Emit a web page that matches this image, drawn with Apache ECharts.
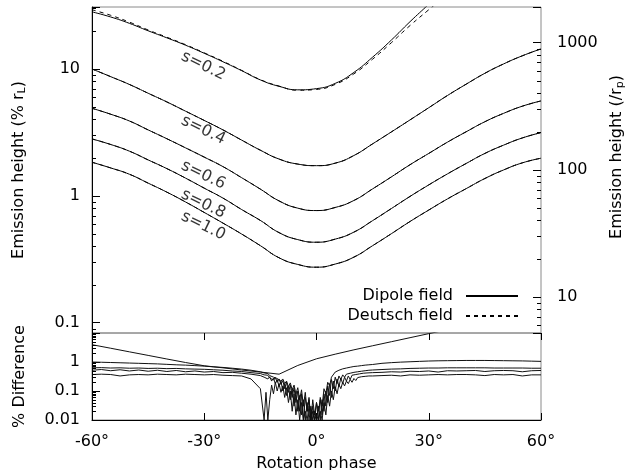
<!DOCTYPE html>
<html>
<head>
<meta charset="UTF-8">
<title>Emission height</title>
<script src="https://cdn.jsdelivr.net/npm/echarts@6/dist/echarts.min.js"></script>
<style>
  html, body { margin: 0; padding: 0; background: #fff; }
</style>
</head>
<body>
<div id="chart" style="width:627px;height:470px;"></div>
<script type="text/javascript">
// rotation phase (deg) for the emission height curves
var phase = [-60, -55, -50, -45, -40, -35, -30, -25, -20, -15, -10, -5, 0, 5, 10, 15, 20, 25, 30, 35, 40, 45, 50, 55, 60];

// emission height in % of r_L, dipole field
var dipole02 = [28.2, 25.7, 22.9, 20.0, 17.6, 15.4, 13.3, 11.4, 9.7, 8.2, 7.3, 6.85, 7.0, 7.7, 9.4, 12.4, 16.9, 23.6, 32.4, 44.7];
var dipole04 = [10.0, 8.7, 7.55, 6.44, 5.5, 4.65, 3.93, 3.31, 2.75, 2.29, 1.95, 1.78, 1.73, 1.81, 2.08, 2.57, 3.19, 3.97, 4.95, 6.18, 7.59, 9.25, 10.96, 12.7, 14.4];
var dipole06 = [4.9, 4.4, 3.89, 3.31, 2.82, 2.39, 2.02, 1.70, 1.39, 1.13, 0.912, 0.80, 0.766, 0.81, 0.92, 1.135, 1.41, 1.76, 2.16, 2.65, 3.20, 3.84, 4.47, 5.09, 5.6];
var dipole08 = [2.81, 2.54, 2.25, 1.92, 1.64, 1.38, 1.15, 0.96, 0.78, 0.64, 0.513, 0.452, 0.431, 0.456, 0.518, 0.638, 0.794, 0.99, 1.22, 1.49, 1.80, 2.16, 2.51, 2.86, 3.15];
var dipole10 = [1.84, 1.66, 1.48, 1.26, 1.07, 0.895, 0.74, 0.61, 0.50, 0.405, 0.325, 0.288, 0.274, 0.29, 0.329, 0.405, 0.503, 0.628, 0.773, 0.946, 1.14, 1.37, 1.60, 1.82, 1.98];

// Deutsch field (only s=0.2 visibly differs)
var deutsch02 = [29.3, 26.5, 23.4, 20.3, 17.8, 15.55, 13.4, 11.5, 9.75, 8.24, 7.33, 6.8, 6.9, 7.56, 9.16, 11.95, 16.1, 22.0, 29.3, 38.9];
var deutsch04 = [10.0, 8.7, 7.55, 6.44, 5.5, 4.65, 3.93, 3.31, 2.75, 2.29, 1.95, 1.78, 1.73, 1.81, 2.08, 2.57, 3.19, 3.97, 4.95, 6.18, 7.59, 9.25, 10.96, 12.7, 14.4];
var deutsch06 = [4.9, 4.4, 3.89, 3.31, 2.82, 2.39, 2.02, 1.70, 1.39, 1.13, 0.912, 0.80, 0.766, 0.81, 0.92, 1.135, 1.41, 1.76, 2.16, 2.65, 3.20, 3.84, 4.47, 5.09, 5.6];
var deutsch08 = [2.81, 2.54, 2.25, 1.92, 1.64, 1.38, 1.15, 0.96, 0.78, 0.64, 0.513, 0.452, 0.431, 0.456, 0.518, 0.638, 0.794, 0.99, 1.22, 1.49, 1.80, 2.16, 2.51, 2.86, 3.15];
var deutsch10 = [1.84, 1.66, 1.48, 1.26, 1.07, 0.895, 0.74, 0.61, 0.50, 0.405, 0.325, 0.288, 0.274, 0.29, 0.329, 0.405, 0.503, 0.628, 0.773, 0.946, 1.14, 1.37, 1.60, 1.82, 1.98];

// curve labels: text, phase, height of label centre
var labelNames = ['s=0.2', 's=0.4', 's=0.6', 's=0.8', 's=1.0'];
var labelPhase = [-30.25, -30.25, -30.25, -30.25, -30.25];
var labelHeight = [10.6, 3.30, 1.46, 0.863, 0.58];

// % difference panel
var diff02 = [3.95, 2.98, 2.24, 1.69, 1.27, 0.96, 0.74, 0.63, 0.53, 0.45, 0.38, 0.76, 1.29, 1.86, 2.63, 3.63, 5.0, 6.9, 9.5, 13];

var diffPhase = [-60, -57.5, -55, -52.5, -50, -47.5, -45, -42.5, -40, -37.5, -35, -32.5, -30, -27.5, -25, -22.5, -20, -17.5, -15,
  -14, -13.5, -13, -12.5, -12, -11.5, -11, -10.5, -10, -9.5, -9, -8.5, -8, -7.5, -7, -6.5, -6, -5.5, -5,
  -4.5, -4, -3.5, -3, -2.5, -2, -1.5, -1, -0.5, 0, 0.5, 1, 1.5, 2, 2.5, 3, 3.5, 4, 4.5, 5,
  5.5, 6, 6.5, 7, 7.5, 8, 8.5, 9, 9.5, 10, 10.5, 11, 11.5, 12, 12.5, 13, 13.5, 14,
  15, 17.5, 20, 22.5, 25, 27.5, 30, 32.5, 35, 37.5, 40, 42.5, 45, 47.5, 50, 52.5, 55, 57.5, 60];

var diff04 = [1.00, 0.98, 0.96, 0.94, 0.92, 0.9, 0.88, 0.86, 0.83, 0.8, 0.78, 0.75, 0.72, 0.68, 0.65, 0.61, 0.57, 0.52, 0.46,
  0.42, 0.38, 0.40, 0.34, 0.36, 0.30, 0.33, 0.27, 0.30, 0.22, 0.26, 0.18, 0.22, 0.14, 0.19, 0.11, 0.16, 0.08, 0.13,
  0.05, 0.11, 0.03, 0.09, 0.02, 0.06, 0.01, 0.05, 0.015, 0.04, 0.01, 0.06, 0.03, 0.12, 0.08, 0.2, 0.15, 0.3, 0.35, 0.45,
  0.48, 0.52, 0.55, 0.58, 0.6, 0.62, 0.64, 0.66, 0.68, 0.7, 0.71, 0.72, 0.74, 0.75, 0.77, 0.78, 0.79, 0.8,
  0.82, 0.9, 0.95, 0.99, 1.02, 1.05, 1.08, 1.1, 1.11, 1.12, 1.13, 1.13, 1.13, 1.12, 1.11, 1.1, 1.09, 1.07, 1.05];
var diff06 = [0.63, 0.64, 0.62, 0.63, 0.61, 0.62, 0.6, 0.61, 0.59, 0.6, 0.58, 0.57, 0.56, 0.54, 0.52, 0.49, 0.47, 0.43, 0.4,
  0.36, 0.31, 0.35, 0.28, 0.32, 0.24, 0.29, 0.2, 0.26, 0.17, 0.23, 0.12, 0.2, 0.09, 0.16, 0.06, 0.13, 0.04, 0.1,
  0.02, 0.08, 0.01, 0.06, 0.02, 0.05, 0.01, 0.03, 0.01, 0.04, 0.02, 0.05, 0.015, 0.08, 0.03, 0.15, 0.07, 0.25, 0.12, 0.3,
  0.18, 0.33, 0.25, 0.36, 0.3, 0.38, 0.34, 0.41, 0.38, 0.44, 0.42, 0.46, 0.45, 0.48, 0.47, 0.5, 0.5, 0.52,
  0.53, 0.55, 0.57, 0.58, 0.6, 0.61, 0.62, 0.62, 0.63, 0.63, 0.63, 0.63, 0.63, 0.62, 0.62, 0.62, 0.62, 0.61, 0.61];
var diff08 = [0.52, 0.55, 0.5, 0.54, 0.49, 0.53, 0.48, 0.52, 0.47, 0.51, 0.46, 0.49, 0.45, 0.47, 0.43, 0.44, 0.41, 0.38, 0.34,
  0.3, 0.34, 0.26, 0.31, 0.22, 0.28, 0.18, 0.25, 0.14, 0.22, 0.1, 0.18, 0.07, 0.15, 0.05, 0.12, 0.03, 0.09, 0.02,
  0.07, 0.015, 0.05, 0.01, 0.04, 0.01, 0.03, 0.01, 0.02, 0.01, 0.03, 0.01, 0.05, 0.02, 0.1, 0.04, 0.18, 0.06, 0.22, 0.1,
  0.26, 0.14, 0.28, 0.18, 0.3, 0.22, 0.33, 0.25, 0.35, 0.3, 0.37, 0.33, 0.39, 0.36, 0.41, 0.39, 0.42, 0.41,
  0.43, 0.44, 0.46, 0.45, 0.48, 0.47, 0.49, 0.45, 0.5, 0.49, 0.5, 0.51, 0.47, 0.5, 0.51, 0.5, 0.46, 0.5, 0.51];
var diff10 = [0.37, 0.38, 0.37, 0.33, 0.36, 0.37, 0.36, 0.38, 0.37, 0.36, 0.38, 0.37, 0.36, 0.37, 0.35, 0.34, 0.33, 0.26, 0.12,
  0.01, 0.09, 0.01, 0.05, 0.16, 0.08, 0.2, 0.1, 0.18, 0.09, 0.15, 0.06, 0.13, 0.04, 0.1, 0.02, 0.08, 0.015, 0.05,
  0.01, 0.04, 0.01, 0.02, 0.01, 0.03, 0.01, 0.02, 0.01, 0.015, 0.01, 0.02, 0.01, 0.04, 0.015, 0.07, 0.03, 0.1, 0.05, 0.14,
  0.08, 0.17, 0.12, 0.2, 0.15, 0.22, 0.18, 0.25, 0.2, 0.27, 0.23, 0.29, 0.26, 0.31, 0.28, 0.32, 0.3, 0.33,
  0.33, 0.34, 0.35, 0.33, 0.36, 0.35, 0.36, 0.37, 0.36, 0.37, 0.37, 0.36, 0.34, 0.37, 0.36, 0.37, 0.33, 0.36, 0.36];

// minor tick values of the log axes
var minorLeft = [0.09, 0.2, 0.3, 0.4, 0.5, 0.6, 0.7, 0.8, 0.9, 2, 3, 4, 5, 6, 7, 8, 9, 20, 30];
var minorRight = [6, 7, 8, 9, 20, 30, 40, 50, 60, 70, 80, 90, 200, 300, 400, 500, 600, 700, 800, 900];
var minorDiff = [0.02, 0.03, 0.04, 0.05, 0.06, 0.07, 0.08, 0.09, 0.2, 0.3, 0.4, 0.5, 0.6, 0.7, 0.8, 0.9, 2, 3, 4, 5, 6, 7, 8, 9];

var FONT = 'DejaVu Sans';

function zip(xs, ys) {
  return ys.map(function (y, i) { return [xs[i], y]; });
}

// only label the decades
function decadeLabel(v) {
  var l = Math.log10(v);
  if (Math.abs(l - Math.round(l)) > 1e-6) return '';
  return String(+Math.pow(10, Math.round(l)).toPrecision(6));
}

var myChart = echarts.init(document.getElementById('chart'));

function heightSeries(name, data, dashed) {
  return {
    name: name,
    type: 'line',
    xAxisIndex: 0,
    yAxisIndex: 0,
    data: zip(phase, data),
    smooth: true,
    showSymbol: false,
    symbol: 'none',
    lineStyle: { color: '#000', width: 1, type: dashed ? [4, 4] : 'solid' },
    itemStyle: { color: '#000' },
    z: dashed ? 3 : 2
  };
}

function diffSeries(name, xs, data) {
  return {
    name: name,
    type: 'line',
    xAxisIndex: 2,
    yAxisIndex: 2,
    data: zip(xs, data),
    showSymbol: false,
    symbol: 'none',
    lineStyle: { color: '#111', width: 1 },
    z: 2
  };
}

// short inward ticks drawn at the minor values of a log axis
function minorTickSeries(xIdx, yIdx, edge, values, dir) {
  return {
    type: 'custom',
    xAxisIndex: xIdx,
    yAxisIndex: yIdx,
    silent: true,
    clip: false,
    data: values.map(function (v) { return [edge, v]; }),
    renderItem: function (params, api) {
      var p = api.coord([api.value(0), api.value(1)]);
      var y = Math.round(p[1]) + 0.5;
      return {
        type: 'line',
        shape: { x1: p[0], y1: y, x2: p[0] + dir * 4, y2: y },
        style: { stroke: '#000', lineWidth: 1 }
      };
    },
    z: 5
  };
}

var axisText = { fontFamily: FONT, fontSize: 16, color: '#000' };

var option = {
  animation: false,
  grid: [
    { left: 92, top: 7, width: 449, height: 326, show: true, borderColor: '#8a8a8a', borderWidth: 1, outerBoundsMode: 'none' },
    { left: 92, top: 333, width: 449, height: 87, show: true, borderColor: '#8a8a8a', borderWidth: 1, outerBoundsMode: 'none' }
  ],
  legend: [
    {
      data: ['Dipole field'], right: 103, top: 283, align: 'right', orient: 'vertical',
      itemWidth: 52, itemHeight: 14, selectedMode: false, itemStyle: { opacity: 0 },
      textStyle: { fontFamily: FONT, fontSize: 16, color: '#000', padding: [0, 8, 0, 0] }
    },
    {
      data: ['Deutsch field'], right: 103, top: 303, align: 'right', orient: 'vertical',
      itemWidth: 52, itemHeight: 14, selectedMode: false, itemStyle: { opacity: 0 },
      textStyle: { fontFamily: FONT, fontSize: 16, color: '#000', padding: [0, 8, 0, 0] }
    }
  ],
  xAxis: [
    { gridIndex: 0, type: 'value', min: -60, max: 60, interval: 30, position: 'bottom',
      axisLine: { show: false, onZero: false }, axisTick: { show: false }, axisLabel: { show: false }, splitLine: { show: false } },
    { gridIndex: 0, type: 'value', min: -60, max: 60, interval: 30, position: 'top',
      axisLine: { show: false, onZero: false }, axisTick: { show: false }, axisLabel: { show: false }, splitLine: { show: false } },
    { gridIndex: 1, type: 'value', min: -60, max: 60, interval: 30, position: 'bottom',
      name: 'Rotation phase', nameLocation: 'middle', nameGap: 36, nameTextStyle: axisText,
      axisLine: { show: true, onZero: false, lineStyle: { color: '#000' } },
      axisTick: { show: true, inside: true, length: 7, lineStyle: { color: '#000' } },
      axisLabel: { show: true, margin: 14, fontFamily: FONT, fontSize: 16, color: '#000',
        formatter: function (v) { return v + '°'; } },
      splitLine: { show: false } },
    { gridIndex: 1, type: 'value', min: -60, max: 60, interval: 30, position: 'top',
      axisLine: { show: false, onZero: false },
      axisTick: { show: true, inside: true, length: 7, lineStyle: { color: '#000' } },
      axisLabel: { show: false }, splitLine: { show: false } }
  ],
  yAxis: [
    { gridIndex: 0, type: 'log', min: 0.083, max: 30.8, position: 'left',
      name: 'Emission height (% r{sub|L})', nameLocation: 'middle', nameGap: 64,
      nameTextStyle: { fontFamily: FONT, fontSize: 16, color: '#000',
        rich: { sub: { fontFamily: FONT, fontSize: 11, color: '#000', padding: [7, 0, 0, 0] } } },
      axisLine: { show: true, onZero: false, lineStyle: { color: '#000' } },
      axisTick: { show: true, inside: true, length: 8, lineStyle: { color: '#000' } },
      axisLabel: { margin: 12, fontFamily: FONT, fontSize: 16, color: '#000', formatter: decadeLabel },
      splitLine: { show: false } },
    { gridIndex: 0, type: 'log', min: 5.2, max: 1911, position: 'right',
      name: 'Emission height (/r{sub|p})', nameLocation: 'middle', nameGap: 66,
      nameTextStyle: { fontFamily: FONT, fontSize: 16, color: '#000', padding: [0, 0, 0, 26],
        rich: { sub: { fontFamily: FONT, fontSize: 11, color: '#000', padding: [7, 0, 0, 0] } } },
      axisLine: { show: false, onZero: false },
      axisTick: { show: true, inside: true, length: 8, lineStyle: { color: '#000' } },
      axisLabel: { margin: 16, fontFamily: FONT, fontSize: 16, color: '#000', formatter: decadeLabel },
      splitLine: { show: false } },
    { gridIndex: 1, type: 'log', min: 0.01, max: 10, position: 'left',
      name: '% Difference', nameLocation: 'middle', nameGap: 64, nameTextStyle: axisText,
      axisLine: { show: true, onZero: false, lineStyle: { color: '#000' } },
      axisTick: { show: true, inside: true, length: 8, lineStyle: { color: '#000' } },
      axisLabel: { margin: 12, fontFamily: FONT, fontSize: 16, color: '#000', showMaxLabel: false,
        formatter: function (v) { return v >= 9.99 ? '' : decadeLabel(v); } },
      splitLine: { show: false } }
  ],
  series: [
    heightSeries('Dipole field', dipole02, false),
    heightSeries('Dipole field', dipole04, false),
    heightSeries('Dipole field', dipole06, false),
    heightSeries('Dipole field', dipole08, false),
    heightSeries('Dipole field', dipole10, false),
    heightSeries('Deutsch field', deutsch02, true),
    heightSeries('Deutsch field', deutsch04, true),
    heightSeries('Deutsch field', deutsch06, true),
    heightSeries('Deutsch field', deutsch08, true),
    heightSeries('Deutsch field', deutsch10, true),
    {
      name: 'labels',
      type: 'scatter',
      xAxisIndex: 0,
      yAxisIndex: 0,
      symbolSize: 0,
      silent: true,
      data: labelNames.map(function (n, i) { return { name: n, value: [labelPhase[i], labelHeight[i]] }; }),
      label: {
        show: true, position: 'inside', rotate: -26, formatter: '{b}',
        fontFamily: FONT, fontSize: 16, color: '#000'
      }
    },
    diffSeries('diff s=0.2', phase, diff02),
    diffSeries('diff s=0.4', diffPhase, diff04),
    diffSeries('diff s=0.6', diffPhase, diff06),
    diffSeries('diff s=0.8', diffPhase, diff08),
    diffSeries('diff s=1.0', diffPhase, diff10),
    minorTickSeries(0, 0, -60, minorLeft, 1),
    minorTickSeries(0, 1, 60, minorRight, -1),
    minorTickSeries(2, 2, -60, minorDiff, 1)
  ]
};

myChart.setOption(option);
</script>
</body>
</html>
